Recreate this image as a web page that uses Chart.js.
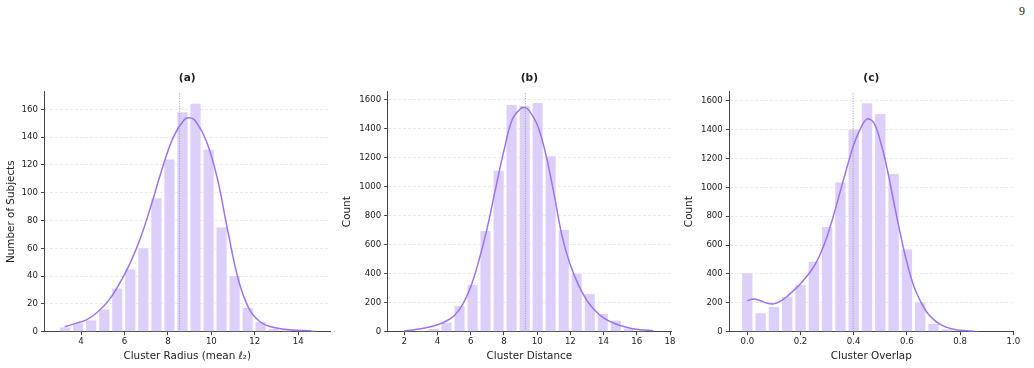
<!DOCTYPE html>
<html>
<head>
<meta charset="utf-8">
<script src="https://cdn.jsdelivr.net/npm/chart.js@4.4.1/dist/chart.umd.min.js"></script>
<style>
  html, body { margin: 0; padding: 0; background: #fff; }
  #page { position: relative; width: 1034px; height: 368px; overflow: hidden; }
  #page canvas { position: absolute; top: 0; }
  #pageNum { position: absolute; left: 1019px; top: 4px; font: 12px "Liberation Serif", serif; color: #222; }
</style>
</head>
<body>
<div id="page">
  <div id="pageNum">9</div>
  <canvas id="chartA" width="340" height="368" style="left:0"></canvas>
  <canvas id="chartB" width="340" height="368" style="left:340px"></canvas>
  <canvas id="chartC" width="354" height="368" style="left:680px"></canvas>
</div>
<script>
// (a) cluster radius
var RADIUS_BINS   = [3.27, 3.87, 4.47, 5.07, 5.67, 6.27, 6.87, 7.47, 8.07, 8.67, 9.27, 9.87, 10.47, 11.07, 11.67, 12.27, 12.87, 13.47, 14.07, 14.67];
var RADIUS_COUNTS = [3, 6, 8, 16, 31, 45, 60, 96, 124, 158, 164, 131, 75, 40, 17, 7, 2, 1, 1, 1];
var RADIUS_KDE_X  = [3.25, 3.75, 4.25, 4.75, 5.25, 5.75, 6.25, 6.75, 7.25, 7.75, 8.25, 8.75, 9.0, 9.25, 9.75, 10.25, 10.75, 11.25, 11.75, 12.25, 12.75, 13.25, 13.75, 14.25, 14.6];
var RADIUS_KDE_Y  = [3.5, 6, 8.5, 14, 22, 34, 49, 68, 92, 118, 140, 152.5, 154, 152, 138, 112, 73, 37, 16, 7, 3.5, 2, 1.2, 0.8, 0.6];
var RADIUS_MEAN   = 8.54;
var RADIUS_XTICKS = [4, 6, 8, 10, 12, 14];
var RADIUS_YTICKS = [0, 20, 40, 60, 80, 100, 120, 140, 160];

// (b) cluster distance
var DIST_BINS   = [2.19, 2.98, 3.76, 4.54, 5.33, 6.11, 6.89, 7.68, 8.46, 9.25, 10.03, 10.81, 11.60, 12.38, 13.17, 13.95, 14.74, 15.52, 16.31];
var DIST_COUNTS = [1, 5, 18, 62, 177, 322, 695, 1112, 1565, 1558, 1579, 1211, 702, 400, 260, 122, 75, 22, 6];
var DIST_KDE_X  = [2.0, 2.5, 3.0, 3.5, 4.0, 4.5, 5.0, 5.5, 6.0, 6.5, 7.0, 7.5, 8.0, 8.5, 9.0, 9.25, 9.5, 10.0, 10.5, 11.0, 11.5, 12.0, 12.5, 13.0, 13.5, 14.0, 14.5, 15.0, 15.5, 16.0, 16.5, 17.0];
var DIST_KDE_Y  = [7, 12, 20, 32, 48, 72, 110, 185, 310, 495, 720, 990, 1250, 1465, 1540, 1547, 1530, 1430, 1235, 960, 660, 460, 320, 215, 145, 95, 65, 43, 28, 17, 11, 7];
var DIST_MEAN   = 9.29;
var DIST_XTICKS = [2, 4, 6, 8, 10, 12, 14, 16, 18];
var DIST_YTICKS = [0, 200, 400, 600, 800, 1000, 1200, 1400, 1600];

// (c) cluster overlap
var OVER_BINS   = [0.0, 0.05, 0.1, 0.15, 0.2, 0.25, 0.3, 0.35, 0.4, 0.45, 0.5, 0.55, 0.6, 0.65, 0.7, 0.75, 0.8, 0.85];
var OVER_COUNTS = [404, 127, 171, 240, 323, 485, 725, 1034, 1401, 1582, 1508, 1092, 570, 203, 53, 16, 7, 2];
var OVER_KDE_X  = [0.0, 0.025, 0.05, 0.075, 0.1, 0.125, 0.15, 0.175, 0.2, 0.225, 0.25, 0.275, 0.3, 0.325, 0.35, 0.375, 0.4, 0.425, 0.45, 0.475, 0.5, 0.525, 0.55, 0.575, 0.6, 0.625, 0.65, 0.675, 0.7, 0.725, 0.75, 0.775, 0.8, 0.825, 0.85];
var OVER_KDE_Y  = [215, 227, 214, 197, 193, 212, 245, 287, 332, 387, 450, 540, 660, 810, 975, 1140, 1295, 1405, 1472, 1448, 1320, 1135, 905, 680, 480, 320, 215, 135, 85, 50, 30, 17, 10, 6, 4];
var OVER_MEAN   = 0.398;
var OVER_XTICKS = [0.0, 0.2, 0.4, 0.6, 0.8, 1.0];
var OVER_YTICKS = [0, 200, 400, 600, 800, 1000, 1200, 1400, 1600];

var BAR_COLOR  = '#dcd0fb';
var KDE_COLOR  = '#9d72f0';
var MEAN_COLOR = '#9a9a9a';
var AXIS_COLOR = '#444';
var GRID_COLOR = '#e6e6e6';
var TEXT_COLOR = '#222';

Chart.defaults.font.family = '"DejaVu Sans", sans-serif';
Chart.defaults.color = TEXT_COLOR;

function pts(xs, ys) {
  return xs.map(function (x, i) { return { x: x, y: ys[i] }; });
}

function setTicks(list) {
  return function (scale) {
    scale.ticks = list.map(function (v) { return { value: v }; });
  };
}

function makePanel(id, p) {
  new Chart(document.getElementById(id), {
    type: 'bar',
    data: {
      datasets: [
        {
          type: 'line',
          data: pts(p.kdeX, p.kdeY),
          borderColor: KDE_COLOR,
          borderWidth: 1.5,
          pointRadius: 0,
          fill: false,
          tension: 0.4,
          order: 0,
        },
        {
          type: 'line',
          data: [{ x: p.mean, y: 0 }, { x: p.mean, y: p.yMax }],
          borderColor: MEAN_COLOR,
          borderWidth: 1,
          borderDash: [1, 1.5],
          pointRadius: 0,
          fill: false,
          order: 1,
        },
        {
          type: 'bar',
          data: pts(p.bins, p.counts),
          backgroundColor: BAR_COLOR,
          borderWidth: 0,
          barPercentage: 0.78,
          categoryPercentage: 1,
          order: 2,
        },
      ],
    },
    options: {
      responsive: false,
      animation: false,
      events: [],
      layout: { padding: { top: 71.64, right: p.padRight, bottom: 0, left: 0 } },
      plugins: {
        legend: { display: false },
        tooltip: { enabled: false },
        title: {
          display: true,
          text: p.title,
          fullSize: false,
          color: TEXT_COLOR,
          font: { size: 10.6, weight: 'bold' },
          padding: { top: 0, bottom: 7.34 },
        },
      },
      scales: {
        x: {
          type: 'linear',
          min: p.xMin,
          max: p.xMax,
          offset: false,
          afterBuildTicks: setTicks(p.xTicks),
          afterFit: function (s) { s.height = 36.3; },
          ticks: {
            autoSkip: false,
            maxRotation: 0,
            padding: 1.6,
            color: TEXT_COLOR,
            font: { size: 8.6 },
            callback: function (v) { return Number(v).toFixed(p.xDec); },
          },
          grid: { offset: false, drawOnChartArea: false, tickLength: 3.5, tickColor: AXIS_COLOR, tickWidth: 1 },
          border: { color: AXIS_COLOR, width: 1 },
          title: {
            display: true,
            text: p.xLabel,
            color: TEXT_COLOR,
            font: { size: 10.4 },
            padding: { top: 0, bottom: 5.76 },
          },
        },
        y: {
          min: 0,
          max: p.yMax,
          afterBuildTicks: setTicks(p.yTicks),
          afterFit: function (s) { s.width = p.yBoxW; },
          ticks: {
            autoSkip: false,
            padding: 3,
            color: TEXT_COLOR,
            font: { size: 8.6 },
            callback: function (v) { return String(v); },
          },
          grid: { color: GRID_COLOR, lineWidth: 0.8, tickLength: 3.5, tickColor: AXIS_COLOR, tickWidth: 1 },
          border: { color: AXIS_COLOR, width: 1, dash: [3, 2] },
          title: {
            display: true,
            text: p.yLabel,
            color: TEXT_COLOR,
            font: { size: 10.4 },
            padding: { top: p.yTitlePad, bottom: 0 },
          },
        },
      },
    },
  });
}

makePanel('chartA', {
  title: '(a)', xLabel: 'Cluster Radius (mean \u2113\u2082)', yLabel: 'Number of Subjects',
  bins: RADIUS_BINS, counts: RADIUS_COUNTS, kdeX: RADIUS_KDE_X, kdeY: RADIUS_KDE_Y, mean: RADIUS_MEAN,
  xTicks: RADIUS_XTICKS, yTicks: RADIUS_YTICKS, xDec: 0,
  xMin: 2.32, xMax: 15.46, yMax: 172.7,
  yBoxW: 44.5, yTitlePad: 5.46, padRight: 10,
});

makePanel('chartB', {
  title: '(b)', xLabel: 'Cluster Distance', yLabel: 'Count',
  bins: DIST_BINS, counts: DIST_COUNTS, kdeX: DIST_KDE_X, kdeY: DIST_KDE_Y, mean: DIST_MEAN,
  xTicks: DIST_XTICKS, yTicks: DIST_YTICKS, xDec: 0,
  xMin: 1.0, xMax: 18.06, yMax: 1657,
  yBoxW: 47.7, yTitlePad: 1.26, padRight: 9,
});

makePanel('chartC', {
  title: '(c)', xLabel: 'Cluster Overlap', yLabel: 'Count',
  bins: OVER_BINS, counts: OVER_COUNTS, kdeX: OVER_KDE_X, kdeY: OVER_KDE_Y, mean: OVER_MEAN,
  xTicks: OVER_XTICKS, yTicks: OVER_YTICKS, xDec: 1,
  xMin: -0.0677, xMax: 1.0, yMax: 1662,
  yBoxW: 49.3, yTitlePad: 3.26, padRight: 20.7,
});
</script>
</body>
</html>
